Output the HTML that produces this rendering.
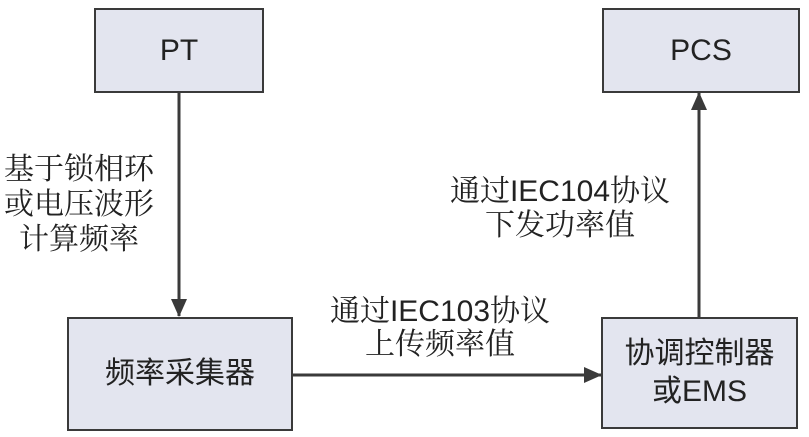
<!DOCTYPE html>
<html><head><meta charset="utf-8"><style>
body{margin:0;width:809px;height:437px;background:#fff;overflow:hidden;position:relative;font-family:"Liberation Sans","Noto Sans CJK SC",sans-serif;color:#222}
.b{position:absolute;background:#e3e5ef;border:2px solid #3a3a3a;box-sizing:border-box;display:flex;align-items:center;justify-content:center;text-align:center;font-size:30px;line-height:38px}
.t{position:absolute;font-size:30px;text-align:center;white-space:nowrap;font-family:"Liberation Sans","Noto Serif CJK SC",sans-serif}
</style></head><body>
<svg width="809" height="437" style="position:absolute;left:0;top:0">
<defs><marker id="a" markerWidth="18" markerHeight="16" refX="17" refY="8" orient="auto" markerUnits="userSpaceOnUse"><path d="M0,0 L18,8 L0,16 Z" fill="#3a3a3a"/></marker></defs>
<g stroke="#3a3a3a" stroke-width="3" fill="none">
<line x1="179" y1="92" x2="179" y2="316" marker-end="url(#a)"/>
<line x1="292" y1="375" x2="601" y2="375" marker-end="url(#a)"/>
<line x1="699" y1="317" x2="699" y2="93" marker-end="url(#a)"/>
</g></svg>
<div class="b" style="left:94px;top:8px;width:170px;height:85px">PT</div>
<div class="b" style="left:602px;top:8px;width:198px;height:85px">PCS</div>
<div class="b" style="left:67px;top:317px;width:226px;height:114px">频率采集器</div>
<div class="b" style="left:601px;top:317px;width:197px;height:112px">协调控制器<br>或EMS</div>
<div class="t" style="left:0;top:152px;width:158px;line-height:35px">基于锁相环<br>或电压波形<br>计算频率</div>
<div class="t" style="left:440px;top:175px;width:240px;line-height:34px">通过IEC104协议<br>下发功率值</div>
<div class="t" style="left:320px;top:295px;width:240px;line-height:33px">通过IEC103协议<br>上传频率值</div>
</body></html>
